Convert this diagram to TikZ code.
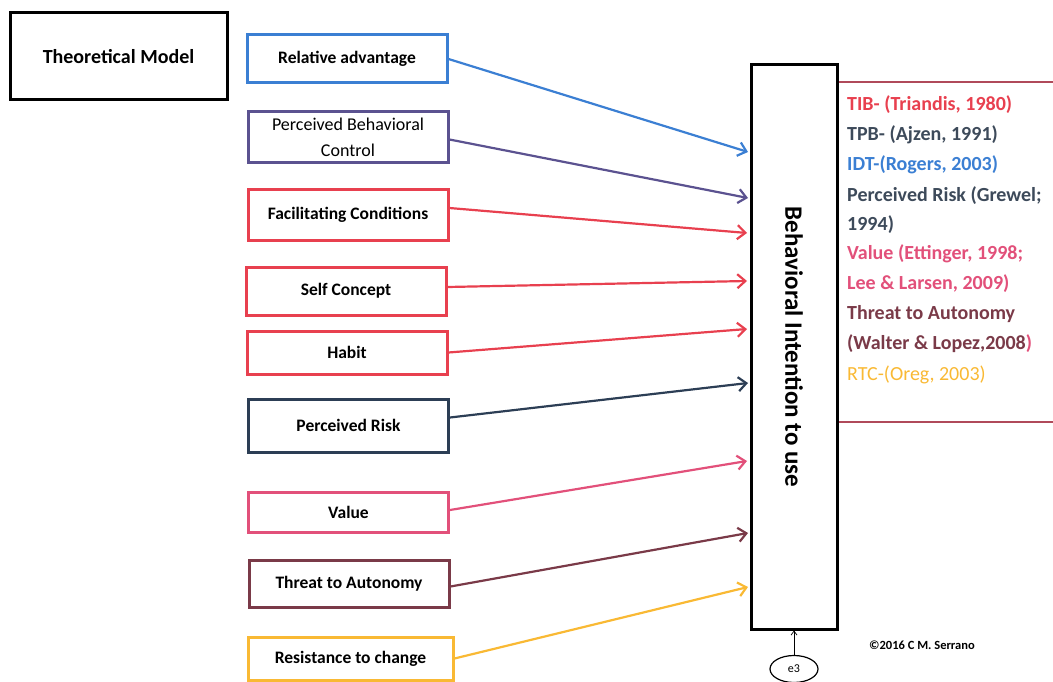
\documentclass[tikz,border=0pt]{standalone}
\usepackage{fontspec}
\setmainfont{Carlito}
\usetikzlibrary{arrows.meta,shapes.geometric}
\definecolor{cblue}{HTML}{3B7FD3}
\definecolor{cpurple}{HTML}{5B5290}
\definecolor{cred}{HTML}{E8404F}
\definecolor{cnavy}{HTML}{2C3E55}
\definecolor{cpink}{HTML}{E2507A}
\definecolor{cmaroon}{HTML}{7A3A48}
\definecolor{corange}{HTML}{F9B934}
\definecolor{cslate}{HTML}{3D4A5A}
\definecolor{cframe}{HTML}{B04A5A}
\tikzset{
  fbox/.style={draw,line width=3pt,rectangle,minimum width=200pt,minimum height=47pt,
    font=\fontsize{17.5}{18}\selectfont\bfseries,align=center,inner sep=2pt},
  conn/.style={line width=2.2pt,-{Straight Barb[length=8pt,width=14pt,line width=2.2pt]}},
  cite/.style={anchor=base west,font=\fontsize{20}{21}\selectfont\bfseries,inner sep=0pt}
}
\begin{document}
\begin{tikzpicture}[x=1pt,y=-1pt]
\useasboundingbox (0,0) rectangle (1053,682);
% title box
\node[draw,line width=3pt,minimum width=217pt,minimum height=87pt,font=\fontsize{20}{21}\selectfont\bfseries] (tm) at (118.5,56.5) {Theoretical Model};
% factor boxes
\node[fbox,draw=cblue,minimum height=48pt] (ra) at (347,59) {Relative advantage};
\node[fbox,draw=cpurple,minimum height=51pt,font=\fontsize{18}{26}\selectfont] (pbc) at (348,137.5) {Perceived Behavioral\\Control};
\node[fbox,draw=cred,minimum height=50pt] (fc) at (348,215) {Facilitating Conditions};
\node[fbox,draw=cred,minimum height=48pt] (sc) at (346,291) {Self Concept};
\node[fbox,draw=cred,minimum height=43pt] (hb) at (347,352.5) {Habit};
\node[fbox,draw=cnavy,minimum height=53pt] (pr) at (348.5,425.5) {Perceived Risk};
\node[fbox,draw=cpink,minimum height=40pt] (va) at (348.5,512) {Value};
\node[fbox,draw=cmaroon,minimum height=47pt] (ta) at (349,583.5) {Threat to Autonomy};
\node[fbox,draw=corange,minimum width=205pt,minimum height=43pt] (rc) at (350.5,658.5) {Resistance to change};
% main box
\node[draw,line width=3pt,minimum width=86pt,minimum height=564pt,inner sep=0pt] (bi) at (794,347) {};
\node[rotate=-90,font=\fontsize{25}{26}\selectfont\bfseries] (bit) at (bi.center) {Behavioral Intention to use};
% citation frame
\coordinate (f1) at (1053,82);
\coordinate (f2) at (1053,422);
\draw[cframe,line width=1.8pt] (f1) -- (bi.east |- f1);
\draw[cframe,line width=1.8pt] (f2) -- (bi.east |- f2);
% target points
\coordinate (t1) at (748,152);
\coordinate (t2) at (748,198);
\coordinate (t3) at (747,233);
\coordinate (t4) at (747,281);
\coordinate (t5) at (747,329);
\coordinate (t6) at (748,383);
\coordinate (t7) at (747,461);
\coordinate (t8) at (748,533);
\coordinate (t9) at (748,587);
\draw[conn,cblue] (ra.east) -- (t1);
\draw[conn,cpurple] ([yshift=-2pt]pbc.east) -- (t2);
\draw[conn,cred] ([yshift=7pt]fc.east) -- (t3);
\draw[conn,cred] ([yshift=4pt]sc.east) -- (t4);
\draw[conn,cred] (hb.east) -- (t5);
\draw[conn,cnavy] ([yshift=8pt]pr.east) -- (t6);
\draw[conn,cpink] ([yshift=2pt]va.east) -- (t7);
\draw[conn,cmaroon] ([yshift=-3pt]ta.east) -- (t8);
\draw[conn,corange] (rc.east) -- (t9);
% e3
\node[draw,ellipse,line width=1.2pt,minimum width=48pt,minimum height=27pt,inner sep=0pt,font=\fontsize{12}{13}\selectfont] (e3) at (794,669) {e3};
\draw[line width=0.7pt,-{Straight Barb[length=4pt,width=6pt]}] (e3.north) -- (bi.south);
% citations
\node[cite,text=cred] (c1) at (847,111) {TIB- (Triandis, 1980)};
\node[cite,text=cslate] (c2) at (847,141) {TPB- (Ajzen, 1991)};
\node[cite,text=cblue] (c3) at (847,171) {IDT-(Rogers, 2003)};
\node[cite,text=cslate] (c4) at (847,201) {Perceived Risk (Grewel;};
\node[cite,text=cslate] (c5) at (847,230) {1994)};
\node[cite,text=cpink] (c6) at (847,259) {Value (Ettinger, 1998;};
\node[cite,text=cpink] (c7) at (847,289) {Lee \& Larsen, 2009)};
\node[cite,text=cmaroon] (c8) at (847,319) {Threat to Autonomy};
\node[cite,text=cmaroon] (c9) at (847,349) {(Walter \& Lopez,2008\textcolor{cpink}{)}};
\node[cite,text=corange,font=\fontsize{20}{21}\selectfont] (c10) at (847,380) {RTC-(Oreg, 2003)};
% copyright
\node[font=\fontsize{12.5}{13}\selectfont\bfseries] (cp) at (922,645) {©2016 C M. Serrano};
\end{tikzpicture}
\end{document}
